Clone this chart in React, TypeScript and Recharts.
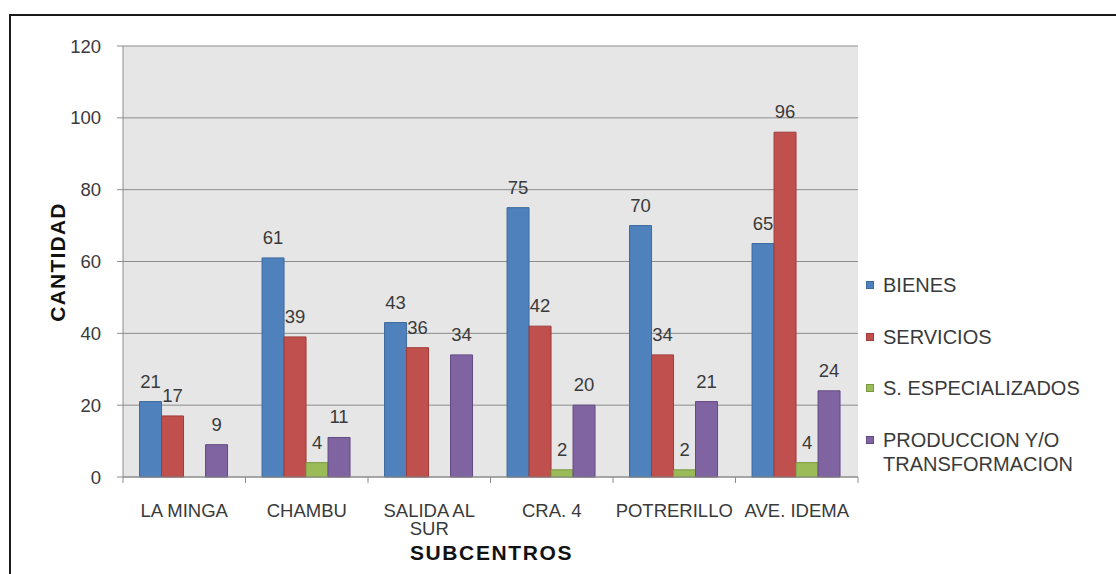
import React from "react"
import { BarChart, Bar, XAxis, YAxis, CartesianGrid, LabelList } from "recharts"

const categories = ["LA MINGA", "CHAMBU", "SALIDA AL\nSUR", "CRA. 4", "POTRERILLO", "AVE. IDEMA"]
const bienes = [21, 61, 43, 75, 70, 65]
const servicios = [17, 39, 36, 42, 34, 96]
const especializados = [null, 4, null, 2, 2, 4]
const produccion = [9, 11, 34, 20, 21, 24]
const yTicks = [0, 20, 40, 60, 80, 100, 120]

const series = [
  { key: "bienes", name: "BIENES", fill: "#4F81BD", stroke: "#3D6A9E" },
  { key: "servicios", name: "SERVICIOS", fill: "#C0504D", stroke: "#9E3B38" },
  { key: "especializados", name: "S. ESPECIALIZADOS", fill: "#9BBB59", stroke: "#7A9A40" },
  { key: "produccion", name: "PRODUCCION Y/O\nTRANSFORMACION", fill: "#8064A2", stroke: "#634A84" },
]

const data = categories.map((name, i) => ({
  name,
  bienes: bienes[i],
  servicios: servicios[i],
  especializados: especializados[i],
  produccion: produccion[i],
}))

const W = 1116
const H = 574
const PLOT_LEFT = 123
const PLOT_RIGHT = 858
const PLOT_TOP = 46
const PLOT_BOTTOM = 477
const BAND = (PLOT_RIGHT - PLOT_LEFT) / categories.length
const FONT = "'Liberation Sans', Arial, sans-serif"
const AXIS = "#8c8c8c"
const TEXT = "#3a3a3a"

function CategoryTick(props: any) {
  const { x, payload, index } = props
  const lines = String(payload.value).split("\n")
  const half = BAND / 2
  return (
    <g>
      <line x1={x - half} x2={x - half} y1={PLOT_BOTTOM} y2={PLOT_BOTTOM + 6} stroke={AXIS} />
      {index === categories.length - 1 && (
        <line x1={x + half} x2={x + half} y1={PLOT_BOTTOM} y2={PLOT_BOTTOM + 6} stroke={AXIS} />
      )}
      <text x={x} y={PLOT_BOTTOM + 40} textAnchor="middle" fill={TEXT} fontSize={18.5} fontFamily={FONT}>
        {lines.map((l, i) => (
          <tspan key={i} x={x} dy={i === 0 ? 0 : 18}>{l}</tspan>
        ))}
      </text>
    </g>
  )
}

export default function App() {
  return (
    <div style={{ position: "absolute", left: 0, top: 0, width: W, height: H, overflow: "hidden", background: "#fff", fontFamily: FONT }}>
      <div style={{ position: "absolute", left: 9, top: 14, width: W, height: H, borderLeft: "2px solid #1a1a1a", borderTop: "2px solid #1a1a1a" }} />
      <div style={{ position: "absolute", left: 0, top: 0 }}>
        <BarChart
          width={W}
          height={H}
          data={data}
          margin={{ top: PLOT_TOP, right: W - PLOT_RIGHT, bottom: H - PLOT_BOTTOM - 60, left: PLOT_LEFT - 60 }}
          barCategoryGap="13.5%"
          barGap={0}
        >
          <CartesianGrid vertical={false} stroke={AXIS} fill="#e6e6e6" fillOpacity={1} />
          <XAxis
            dataKey="name"
            height={60}
            tickLine={false}
            axisLine={{ stroke: AXIS }}
            tick={<CategoryTick />}
            interval={0}
            label={{
              content: () => (
                <text x={(PLOT_LEFT + PLOT_RIGHT) / 2 + 1} y={560} textAnchor="middle" fontSize={21} fontWeight="bold" letterSpacing={1.6} fill="#111" fontFamily={FONT}>
                  SUBCENTROS
                </text>
              ),
            }}
          />
          <YAxis
            width={60}
            domain={[0, 120]}
            ticks={yTicks}
            interval={0}
            tickSize={6}
            tickMargin={16}
            axisLine={{ stroke: AXIS }}
            tickLine={{ stroke: AXIS }}
            tick={{ fill: TEXT, fontSize: 18.5, fontFamily: FONT }}
            label={{
              content: () => (
                <text x={65} y={262} textAnchor="middle" fontSize={21} fontWeight="bold" letterSpacing={1.2} fill="#111" fontFamily={FONT} transform="rotate(-90 65 262)">
                  CANTIDAD
                </text>
              ),
            }}
          />
          {series.map(s => (
            <Bar key={s.key} dataKey={s.key} fill={s.fill} stroke={s.stroke} strokeWidth={1} isAnimationActive={false}>
              <LabelList dataKey={s.key} position="top" offset={14} fill={TEXT} fontSize={18.5} fontFamily={FONT} />
            </Bar>
          ))}
        </BarChart>
      </div>
      <div style={{ position: "absolute", left: 866, top: 0 }}>
        {series.map((s, i) => {
          const lines = s.name.split("\n")
          return (
            <div key={s.key} style={{ position: "absolute", left: 0, top: 285 + i * 51.7 - 12, whiteSpace: "nowrap" }}>
              <div style={{ position: "absolute", left: 0, top: 8, width: 8, height: 8, background: s.fill, border: `1px solid ${s.stroke}`, boxSizing: "border-box" }} />
              <div style={{ position: "absolute", left: 17, top: 0, fontSize: 20, lineHeight: "24px", color: TEXT }}>
                {lines.map((l, j) => <div key={j}>{l}</div>)}
              </div>
            </div>
          )
        })}
      </div>
    </div>
  )
}
